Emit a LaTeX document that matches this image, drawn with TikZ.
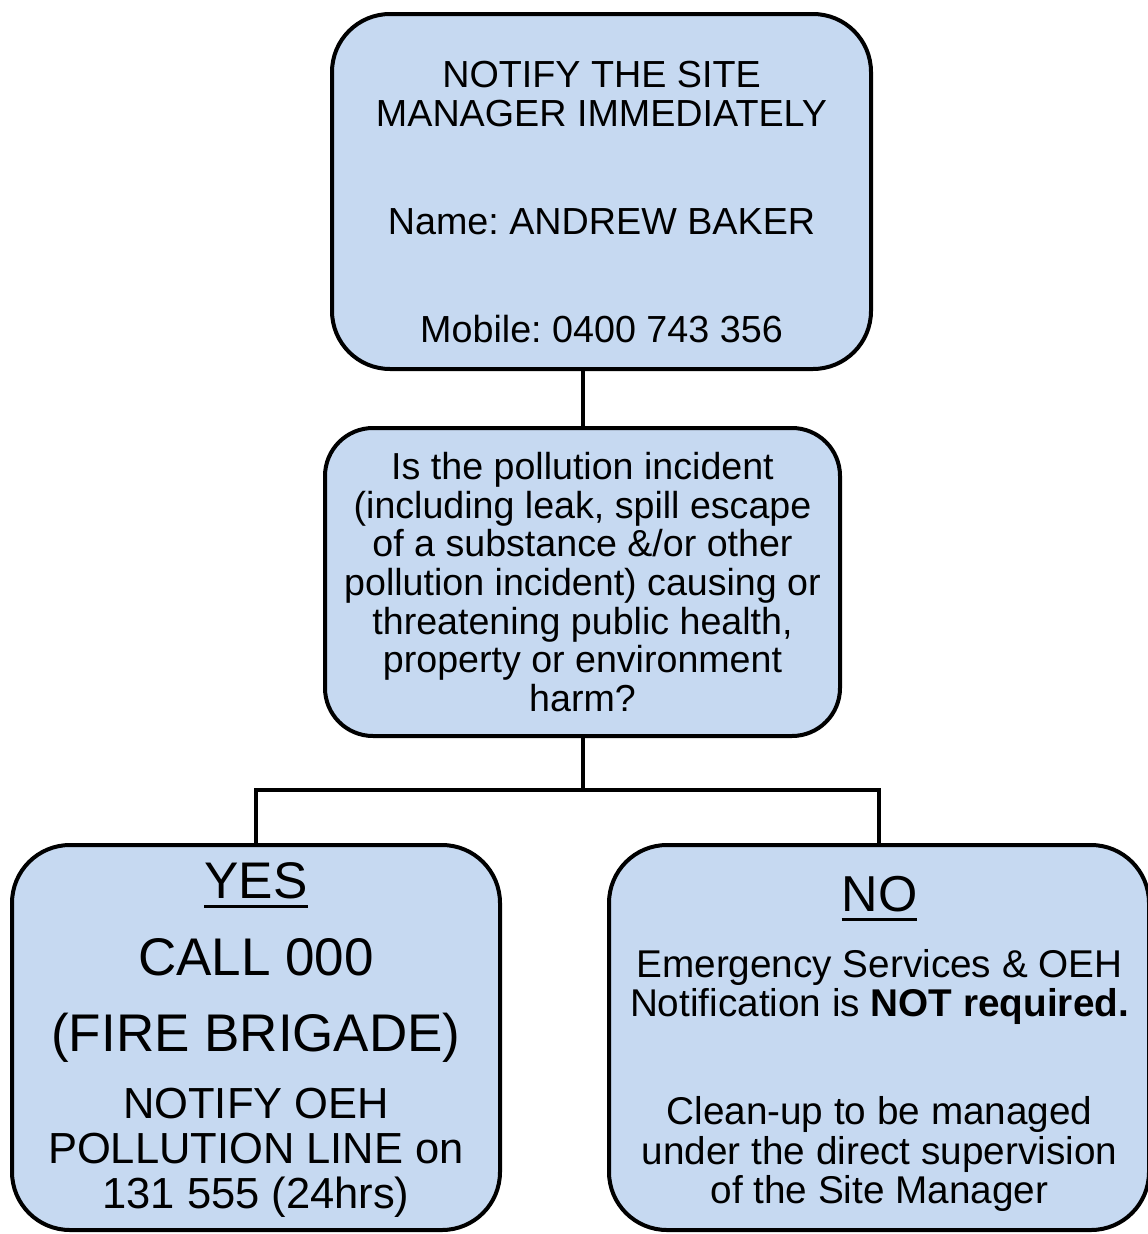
\documentclass[tikz,border=0pt]{standalone}
\usepackage{fontspec}
\setmainfont{Liberation Sans}
\usepackage{tikz}
\usepackage{xcolor}
\definecolor{boxblue}{RGB}{198,217,241}
\newcommand{\undl}[1]{\setbox0\hbox{#1}\rlap{\vrule height -7pt depth 10pt width \wd0}\box0}
\frenchspacing

\begin{document}
\begin{tikzpicture}[x=1pt, y=-1pt,
    card/.style={draw, line width=4pt, fill=boxblue, rounded corners=58pt, inner sep=0pt},
    txt/.style={anchor=north, align=center, inner sep=0pt},
    wire/.style={line width=4pt}]
    \useasboundingbox (0,0) rectangle (1148,1234);

    \node[card, minimum width=539pt, minimum height=355pt] (notify) at (601.5,191.5) {};
    \node[card, rounded corners=48pt, minimum width=515pt, minimum height=308pt] (question) at (582.5,582) {};
    \node[card, minimum width=488pt, minimum height=385pt] (yes) at (256,1037.5) {};
    \node[card, minimum width=540pt, minimum height=385pt] (no) at (879,1037.5) {};

    \node[txt, font=\fontsize{37.7}{39}\selectfont] (notifytxt) at (601.5,61)
        {NOTIFY THE SITE\\MANAGER IMMEDIATELY\\[69pt]Name: ANDREW BAKER\\[69pt]Mobile: 0400 743 356};
    \node[txt, font=\fontsize{37.6}{38.7}\selectfont] (questiontxt) at (582.5,452)
        {Is the pollution incident\\(including leak, spill escape\\of a substance \&/or other\\pollution incident) causing or\\threatening public health,\\property or environment\\harm?};
    \node[txt, font=\fontsize{51.5}{60}\selectfont] (yestxt) at (256,862) {\undl{YES}};
    \node[txt, font=\fontsize{53}{76}\selectfont] (calltxt) at (256,938) {CALL 000\\(FIRE BRIGADE)};
    \node[txt, font=\fontsize{43.5}{45}\selectfont] (oehtxt) at (256,1088)
        {NOTIFY OEH\\POLLUTION LINE on\\131 555 (24hrs)};
    \node[txt, font=\fontsize{50.5}{60}\selectfont] (notxt) at (879.5,876) {\undl{NO}};
    \node[txt, font=\fontsize{38.7}{39.5}\selectfont] (emergtxt) at (879.5,949)
        {Emergency Services \& OEH\\Notification is \textbf{NOT required.}\\[68.5pt]Clean-up to be managed\\under the direct supervision\\of the Site Manager};

    \coordinate (split) at (582.5,790);
    \draw[wire] (question.north) -- (question.north |- notify.south);
    \draw[wire] (question.south) -- (split);
    \draw[wire] (yes.north) |- (split) -| (no.north);
\end{tikzpicture}
\end{document}
